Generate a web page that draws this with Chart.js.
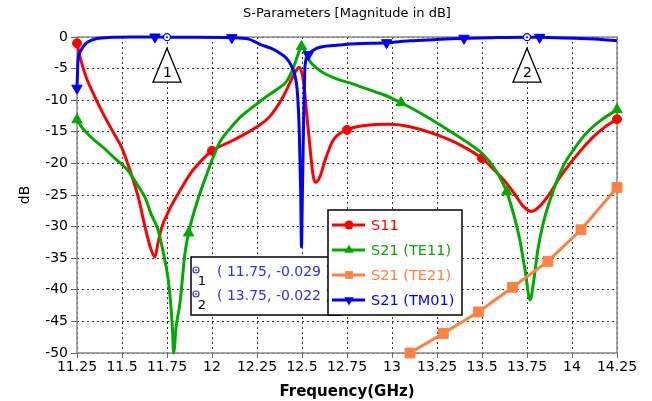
<!DOCTYPE html>
<html>
<head>
<meta charset="utf-8">
<script src="https://cdn.jsdelivr.net/npm/chart.js@4/dist/chart.umd.min.js"></script>
<style>
  html, body { margin: 0; padding: 0; background: #fff; }
</style>
</head>
<body>
<canvas id="chart" width="652" height="401"></canvas>
<script>
// axis ticks
const xTickLabels = ['11.25','11.5','11.75','12','12.25','12.5','12.75','13','13.25','13.5','13.75','14','14.25'];
const yTickLabels = ['-50','-45','-40','-35','-30','-25','-20','-15','-10','-5','0'];

// S11
const s11Freq = [11.25,11.27,11.30,11.35,11.40,11.45,11.50,11.535,11.59,11.63,11.66,11.683,11.70,11.72,11.76,11.82,11.88,11.94,12.00,12.12,12.25,12.32,12.396,12.46,12.485,12.507,12.526,12.544,12.563,12.576,12.60,12.628,12.674,12.75,12.85,12.99,13.10,13.25,13.38,13.50,13.56,13.62,13.68,13.73,13.776,13.82,13.878,13.93,13.99,14.05,14.118,14.18,14.25];
const s11Db = [-1.0,-3.5,-6.3,-9.5,-12.4,-15.0,-17.6,-20.3,-25.3,-30.3,-33.5,-34.8,-32.6,-30.2,-27.5,-24.4,-21.6,-19.6,-18.0,-16.3,-14.2,-12.6,-9.4,-5.7,-4.8,-6.8,-12.1,-17.4,-22.1,-23.0,-22.1,-19.5,-16.3,-14.7,-14.0,-13.8,-14.2,-15.5,-17.1,-19.2,-20.8,-22.6,-24.8,-26.8,-27.6,-26.8,-24.7,-22.3,-20.0,-17.9,-15.8,-14.3,-13.0];
const s11Marks = [11.25, 12.00, 12.75, 13.50, 14.25];

// S21 (TE11)
const te11Freq = [11.25,11.28,11.33,11.40,11.46,11.53,11.59,11.63,11.66,11.70,11.73,11.755,11.77,11.78,11.787,11.80,11.822,11.85,11.87,11.915,11.97,12.04,12.10,12.16,12.23,12.30,12.36,12.415,12.45,12.475,12.497,12.52,12.545,12.58,12.62,12.70,12.77,12.84,12.95,13.05,13.15,13.25,13.35,13.43,13.50,13.57,13.637,13.68,13.71,13.74,13.767,13.79,13.81,13.84,13.878,13.95,14.01,14.08,14.16,14.25];
const te11Db = [-13.1,-14.4,-15.9,-17.6,-19.2,-21.0,-23.6,-25.5,-27.9,-30.5,-34.2,-38.0,-42.0,-46.0,-50.0,-46.0,-42.1,-34.2,-31.0,-26.3,-21.8,-16.8,-14.5,-12.6,-11.0,-9.5,-8.3,-7.0,-5.0,-3.0,-1.5,-2.5,-3.9,-4.9,-5.7,-6.7,-7.3,-8.0,-9.1,-10.4,-11.9,-13.6,-15.4,-16.9,-18.4,-20.8,-24.5,-28.5,-32.1,-37.0,-41.6,-38.0,-33.7,-29.5,-25.8,-20.5,-17.8,-15.2,-13.2,-11.5];
const te11Marks = [11.25, 11.87, 12.497, 13.05, 13.637, 14.25];

// S21 (TE21)
const te21Freq = [13.10,13.285,13.48,13.67,13.866,14.05,14.25];
const te21Db = [-50.0,-46.9,-43.5,-39.6,-35.5,-30.5,-23.8];
const te21Marks = te21Freq;

// S21 (TM01)
const tm01Freq = [11.25,11.256,11.27,11.285,11.31,11.36,11.45,11.55,11.683,11.75,11.90,12.11,12.20,12.27,12.33,12.38,12.415,12.44,12.46,12.475,12.485,12.493,12.497,12.502,12.508,12.513,12.517,12.535,12.58,12.69,12.80,12.97,13.10,13.25,13.40,13.55,13.75,13.82,13.95,14.05,14.15,14.25];
const tm01Db = [-8.1,-3.6,-2.2,-1.5,-0.8,-0.25,-0.05,0,0,-0.029,-0.03,-0.1,-0.3,-1.2,-1.8,-2.6,-3.4,-4.5,-6.0,-9,-15,-25,-33.2,-25,-15,-8,-4.5,-2.8,-1.8,-1.3,-1.05,-0.9,-0.6,-0.4,-0.2,-0.1,-0.022,-0.05,-0.15,-0.25,-0.35,-0.6];
const tm01Marks = [11.25, 11.683, 12.11, 12.535, 12.97, 13.40, 13.82];

// marker readouts
const markerNames = ['1', '2'];
const markerFreq = [11.75, 13.75];
const markerDb = [-0.029, -0.022];

const FONT = "'DejaVu Sans', Verdana, sans-serif";

const series = [
    { label: 'S11', freq: s11Freq, db: s11Db, marks: s11Marks, color: 'rgb(255,0,0)', style: 'circle', r: 4.5, rot: 0 },
    { label: 'S21 (TE11)', freq: te11Freq, db: te11Db, marks: te11Marks, color: 'rgb(0,170,0)', style: 'triangle', r: 6, rot: 0 },
    { label: 'S21 (TE21)', freq: te21Freq, db: te21Db, marks: te21Marks, color: 'rgb(255,128,64)', style: 'rect', r: 7, rot: 0 },
    { label: 'S21 (TM01)', freq: tm01Freq, db: tm01Db, marks: tm01Marks, color: 'rgb(0,0,255)', style: 'triangle', r: 6, rot: 180 }
];

// draw a marker shape by hand (for the legend)
function drawShape(ctx, s, x, y) {
    ctx.save();
    ctx.fillStyle = s.color;
    ctx.beginPath();
    if (s.style === 'circle') {
        ctx.arc(x, y, s.r, 0, Math.PI * 2);
    } else if (s.style === 'rect') {
        const h = s.r * Math.SQRT1_2;
        ctx.rect(x - h, y - h, 2 * h, 2 * h);
    } else {
        const dir = s.rot === 180 ? -1 : 1;
        for (let k = 0; k < 3; k++) {
            const a = -Math.PI / 2 + k * 2 * Math.PI / 3;
            const px = x + s.r * Math.cos(a);
            const py = y + dir * s.r * Math.sin(a);
            if (k === 0) ctx.moveTo(px, py); else ctx.lineTo(px, py);
        }
        ctx.closePath();
    }
    ctx.fill();
    ctx.restore();
}

const decor = {
    id: 'decor',
    beforeDatasetsDraw(chart) {
        const { ctx, chartArea: a } = chart;
        ctx.save();
        ctx.strokeStyle = '#8a8a8a';
        ctx.lineWidth = 1.5;
        ctx.strokeRect(a.left, a.top, a.right - a.left, a.bottom - a.top);
        ctx.restore();
    },
    afterDatasetsDraw(chart) {
        const { ctx, chartArea: a } = chart;
        const xs = chart.scales.x, ys = chart.scales.y;

        // title
        ctx.save();
        ctx.fillStyle = '#000';
        ctx.font = '13px ' + FONT;
        ctx.textAlign = 'center';
        ctx.textBaseline = 'middle';
        ctx.fillText('S-Parameters [Magnitude in dB]', (a.left + a.right) / 2, 14);
        ctx.restore();

        // marker flags on the curve
        markerFreq.forEach((f, i) => {
            const px = xs.getPixelForValue(f);
            const py = ys.getPixelForValue(markerDb[i]);
            ctx.save();
            ctx.beginPath();
            ctx.moveTo(px, py + 11);
            ctx.lineTo(px - 14, py + 45);
            ctx.lineTo(px + 14, py + 45);
            ctx.closePath();
            ctx.fillStyle = '#fff';
            ctx.fill();
            ctx.strokeStyle = '#000';
            ctx.lineWidth = 1.3;
            ctx.stroke();
            ctx.fillStyle = '#000';
            ctx.font = '14px ' + FONT;
            ctx.textAlign = 'center';
            ctx.textBaseline = 'middle';
            ctx.fillText(markerNames[i], px + 0.5, py + 36);
            ctx.beginPath();
            ctx.arc(px, py, 3.5, 0, Math.PI * 2);
            ctx.fillStyle = '#fff';
            ctx.fill();
            ctx.strokeStyle = 'rgb(0,0,255)';
            ctx.lineWidth = 1.3;
            ctx.stroke();
            ctx.beginPath();
            ctx.arc(px, py, 1, 0, Math.PI * 2);
            ctx.fillStyle = 'rgb(0,0,255)';
            ctx.fill();
            ctx.restore();
        });

        // marker readout box
        ctx.save();
        const bx = 191, by = 257, bw = 150, bh = 58;
        ctx.fillStyle = '#fff';
        ctx.fillRect(bx, by, bw, bh);
        ctx.strokeStyle = '#000';
        ctx.lineWidth = 1.5;
        ctx.strokeRect(bx, by, bw, bh);
        markerFreq.forEach((f, i) => {
            const cy = by + 15 + i * 24;
            ctx.beginPath();
            ctx.arc(bx + 5, cy - 2, 3, 0, Math.PI * 2);
            ctx.strokeStyle = '#3030e0';
            ctx.lineWidth = 1.2;
            ctx.stroke();
            ctx.beginPath();
            ctx.arc(bx + 5, cy - 2, 0.9, 0, Math.PI * 2);
            ctx.fillStyle = '#3030e0';
            ctx.fill();
            ctx.fillStyle = '#000';
            ctx.font = '13px ' + FONT;
            ctx.textAlign = 'center';
            ctx.textBaseline = 'middle';
            ctx.fillText(markerNames[i], bx + 11, cy + 10);
            ctx.fillStyle = '#3030e0';
            ctx.font = '14px ' + FONT;
            ctx.textAlign = 'left';
            ctx.fillText('( ' + f.toFixed(2) + ', ' + markerDb[i].toFixed(3) + ' )', bx + 26, cy);
        });
        ctx.restore();

        // legend box
        ctx.save();
        const lx = 328, ly = 210, lw = 134, lh = 105;
        ctx.fillStyle = '#fff';
        ctx.fillRect(lx, ly, lw, lh);
        ctx.strokeStyle = '#000';
        ctx.lineWidth = 1.5;
        ctx.strokeRect(lx, ly, lw, lh);
        series.forEach((s, i) => {
            const cy = ly + 15 + i * 25;
            ctx.strokeStyle = s.color;
            ctx.lineWidth = 3;
            ctx.beginPath();
            ctx.moveTo(lx + 4, cy);
            ctx.lineTo(lx + 37, cy);
            ctx.stroke();
            drawShape(ctx, Object.assign({}, s, { r: Math.min(s.r, 5.5) }), lx + 21, cy);
            ctx.fillStyle = s.color;
            ctx.font = '14.5px ' + FONT;
            ctx.textAlign = 'left';
            ctx.textBaseline = 'middle';
            ctx.fillText(s.label, lx + 43, cy + 1);
        });
        ctx.restore();
    }
};

const datasets = series.map((s, i) => ({
    label: s.label,
    data: s.freq.map((f, k) => ({ x: f, y: s.db[k] })),
    showLine: true,
    borderColor: s.color,
    backgroundColor: s.color,
    borderWidth: 3,
    cubicInterpolationMode: s.style === 'rect' ? 'default' : 'monotone',
    tension: 0,
    pointStyle: s.style,
    rotation: s.rot,
    pointRadius: ctx => (ctx.raw && s.marks.includes(ctx.raw.x)) ? s.r : 0,
    pointBorderWidth: 1,
    clip: false,
    order: [3, 2, 1, 0][i]
}));

new Chart(document.getElementById('chart'), {
    type: 'scatter',
    data: { datasets: datasets },
    options: {
        responsive: false,
        animation: false,
        events: [],
        layout: { padding: { top: 37, right: 35, left: 0, bottom: 0 } },
        plugins: { legend: { display: false }, tooltip: { enabled: false }, title: { display: false } },
        scales: {
            x: {
                type: 'linear',
                min: 11.25,
                max: 14.25,
                afterFit: scale => { scale.height = 48; },
                afterBuildTicks: scale => {
                    scale.ticks = xTickLabels.map(t => ({ value: parseFloat(t) }));
                },
                ticks: {
                    autoSkip: false,
                    maxRotation: 0,
                    color: '#000',
                    font: { family: FONT, size: 14 },
                    padding: 1,
                    callback: (v, i) => xTickLabels[i]
                },
                grid: { color: 'rgba(0,0,0,0.8)', lineWidth: 1, tickColor: '#666', tickLength: 5 },
                border: { display: false, dash: [2, 3] },
                title: {
                    display: true,
                    text: 'Frequency(GHz)',
                    color: '#000',
                    font: { family: FONT, size: 15, weight: 'bold' },
                    padding: { top: 1, bottom: 0 }
                }
            },
            y: {
                type: 'linear',
                min: -50,
                max: 0,
                afterFit: scale => { scale.width = 77; },
                afterBuildTicks: scale => {
                    scale.ticks = yTickLabels.map(t => ({ value: parseFloat(t) }));
                },
                ticks: {
                    color: '#000',
                    font: { family: FONT, size: 14 },
                    padding: 3,
                    callback: (v, i) => yTickLabels[i]
                },
                grid: { color: 'rgba(0,0,0,0.8)', lineWidth: 1, tickColor: '#666', tickLength: 6 },
                border: { display: false, dash: [2, 3] },
                title: {
                    display: true,
                    text: 'dB',
                    color: '#000',
                    font: { family: FONT, size: 14 },
                    padding: { top: 17, bottom: 0 }
                }
            }
        }
    },
    plugins: [decor]
});
</script>
</body>
</html>
